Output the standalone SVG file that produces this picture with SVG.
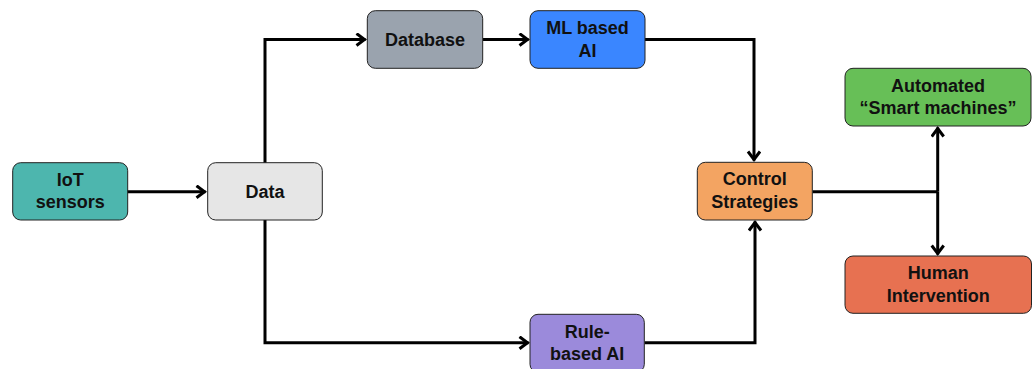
<svg xmlns="http://www.w3.org/2000/svg" width="1036" height="369" viewBox="0 0 1036 369">
<style>
.box{stroke:#222;stroke-width:1;}
.t{font-family:"Liberation Sans",Arial,sans-serif;font-weight:bold;font-size:18px;fill:#111;text-anchor:middle;}
.c{fill:none;stroke:#000;stroke-width:3;}
</style>
<defs>
<marker id="ah" markerUnits="userSpaceOnUse" markerWidth="16" markerHeight="16" refX="12" refY="7" orient="auto">
<path d="M3,1 L11,7 L3,13" fill="none" stroke="#000" stroke-width="3"/>
</marker>
</defs>
<rect width="1036" height="369" fill="#fff"/>
<g id="connectors">
<path class="c" d="M127,191.7 H205.5" marker-end="url(#ah)"/>
<path class="c" d="M265,163 V39.5 H365.5" marker-end="url(#ah)"/>
<path class="c" d="M483,39.5 H528.5" marker-end="url(#ah)"/>
<path class="c" d="M645,39.5 H754 V160.5" marker-end="url(#ah)"/>
<path class="c" d="M265,220 V342.7 H528.5" marker-end="url(#ah)"/>
<path class="c" d="M644.5,342.7 H755 V221.5" marker-end="url(#ah)"/>
<path class="c" d="M812.5,191.7 H937.7"/>
<path class="c" d="M937.7,191.7 V127.5" marker-end="url(#ah)"/>
<path class="c" d="M937.7,191.7 V254.5" marker-end="url(#ah)"/>
</g>
<g id="iot">
<rect class="box" x="12.7" y="162.7" width="115" height="57.3" rx="8" fill="#4DB6AE"/>
<text class="t" x="70.2" y="185.5">IoT</text>
<text class="t" x="70.2" y="208">sensors</text>
</g>
<g id="data">
<rect class="box" x="207.7" y="162.7" width="114.6" height="57.3" rx="8" fill="#E6E6E6"/>
<text class="t" x="265" y="197.8">Data</text>
</g>
<g id="database">
<rect class="box" x="367.3" y="10.7" width="115.4" height="57.6" rx="8" fill="#9AA3AE"/>
<text class="t" x="425" y="45.8">Database</text>
</g>
<g id="ml">
<rect class="box" x="530" y="10.7" width="115" height="57.6" rx="8" fill="#3A86FF"/>
<text class="t" x="587.5" y="34">ML based</text>
<text class="t" x="587.5" y="56.5">AI</text>
</g>
<g id="control">
<rect class="box" x="697.3" y="162.3" width="115" height="57.7" rx="8" fill="#F3A462"/>
<text class="t" x="754.8" y="185.2">Control</text>
<text class="t" x="754.8" y="207.7">Strategies</text>
</g>
<g id="rule">
<rect class="box" x="530" y="314.3" width="114.3" height="58" rx="8" fill="#9B8ADB"/>
<text class="t" x="587.2" y="337.5">Rule-</text>
<text class="t" x="587.2" y="360">based AI</text>
</g>
<g id="automated">
<rect class="box" x="845" y="68.3" width="186" height="57.7" rx="8" fill="#67BF57"/>
<text class="t" x="938" y="91.7">Automated</text>
<text class="t" x="938" y="114.2">“Smart machines”</text>
</g>
<g id="human">
<rect class="box" x="845" y="256" width="186.5" height="57.3" rx="8" fill="#E77151"/>
<text class="t" x="938.2" y="279.2">Human</text>
<text class="t" x="938.2" y="301.7">Intervention</text>
</g>
</svg>
